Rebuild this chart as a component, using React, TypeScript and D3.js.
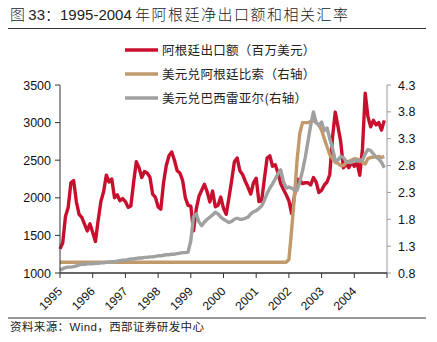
import React from "react";
import * as d3 from "d3";

const years = ["1995", "1996", "1997", "1998", "1999", "2000", "2001", "2002", "2003", "2004"];
const leftTicks = [1000, 1500, 2000, 2500, 3000, 3500];
const rightTicks = [0.8, 1.3, 1.8, 2.3, 2.8, 3.3, 3.8, 4.3];

// Monthly, Jan 1995 .. Dec 2004
const exportsArg = [
  1321, 1400, 1750, 1870, 2200, 2230, 1950, 1780, 1740, 1650, 1560, 1655,
  1540, 1420, 1700, 1950, 2080, 2300, 2210, 2250, 2000, 2040, 1960, 1990,
  1950, 1873, 1890, 2200, 2480, 2400, 2270, 2350, 2330, 2274, 2050, 2007,
  1880, 1850, 2200, 2430, 2560, 2610, 2500, 2360, 2330, 2230, 2000, 1900,
  1890, 1560, 1850, 2020, 2100, 2180, 2080, 1945, 2090, 1880, 1900, 2010,
  1860, 1780, 2000, 2230, 2480, 2530, 2360, 2310, 2220, 2140, 2050, 2200,
  2260, 1950, 1960, 2250, 2530, 2560, 2420, 2440, 2330, 2190, 2110, 2040,
  1960, 1790, 2020, 2250, 2230, 2190, 2200, 2200, 2170, 2270, 2210, 2070,
  2100, 2170, 2210, 2310, 2800, 3140, 2950, 2750, 2400, 2450, 2400, 2475,
  2420, 2470, 2300, 2650, 3390, 3080, 2944, 3030, 2970, 3000, 2900, 3030,
];

const usdArs = [
  1.0, 1.0, 1.0, 1.0, 1.0, 1.0, 1.0, 1.0, 1.0, 1.0, 1.0, 1.0,
  1.0, 1.0, 1.0, 1.0, 1.0, 1.0, 1.0, 1.0, 1.0, 1.0, 1.0, 1.0,
  1.0, 1.0, 1.0, 1.0, 1.0, 1.0, 1.0, 1.0, 1.0, 1.0, 1.0, 1.0,
  1.0, 1.0, 1.0, 1.0, 1.0, 1.0, 1.0, 1.0, 1.0, 1.0, 1.0, 1.0,
  1.0, 1.0, 1.0, 1.0, 1.0, 1.0, 1.0, 1.0, 1.0, 1.0, 1.0, 1.0,
  1.0, 1.0, 1.0, 1.0, 1.0, 1.0, 1.0, 1.0, 1.0, 1.0, 1.0, 1.0,
  1.0, 1.0, 1.0, 1.0, 1.0, 1.0, 1.0, 1.0, 1.0, 1.0, 1.0, 1.0,
  1.05, 1.6, 2.2, 2.9, 3.4, 3.6, 3.6, 3.6, 3.62, 3.64, 3.6, 3.55,
  3.46, 3.3, 3.15, 3.0, 2.93, 2.86, 2.84, 2.8, 2.8, 2.85, 2.88, 2.9,
  2.93, 2.92, 2.9, 2.86, 2.83, 2.93, 2.95, 2.96, 2.96, 2.97, 2.95, 2.97,
];

const usdBrl = [
  0.85, 0.88, 0.9, 0.91, 0.91, 0.92, 0.93, 0.95, 0.96, 0.96, 0.97, 0.97,
  0.97, 0.98, 0.98, 0.99, 0.99, 1.0, 1.0, 1.01, 1.01, 1.02, 1.03, 1.04,
  1.04, 1.05, 1.06, 1.06, 1.07, 1.08, 1.08, 1.09, 1.09, 1.1, 1.1, 1.11,
  1.12, 1.12, 1.13, 1.14, 1.14, 1.15, 1.15, 1.16, 1.17, 1.18, 1.18, 1.19,
  1.4, 1.85, 1.9, 1.75, 1.68, 1.75, 1.8, 1.84, 1.88, 1.93, 1.9, 1.84,
  1.8, 1.77, 1.74, 1.76, 1.8, 1.82, 1.8, 1.8, 1.82, 1.84, 1.9, 1.94,
  1.96, 2.0, 2.05, 2.15, 2.28, 2.38, 2.46, 2.55, 2.65, 2.72, 2.5, 2.38,
  2.4, 2.38, 2.35, 2.34, 2.5, 2.7, 2.95, 3.25, 3.55, 3.8, 3.6, 3.55,
  3.61, 3.45, 3.5, 3.3, 3.12, 2.9, 2.9, 2.97, 2.95, 2.88, 2.86, 2.86,
  2.9, 2.88, 2.9, 2.9, 3.02, 3.1, 3.08, 3.02, 2.96, 2.92, 2.86, 2.76,
];

const legendLabels = ["阿根廷出口额（百万美元）", "美元兑阿根廷比索（右轴）", "美元兑巴西雷亚尔(右轴）"];
const colors = ["#C8102E", "#C19A6B", "#A0A0A0"];

const W = 437;
const H = 342;
const L = 60, R = 387, T = 85, B = 273;
const NUM = "'Liberation Sans', Arial, sans-serif";
const CJK = "'Noto Sans CJK SC', sans-serif";

export default function App() {
  const x = d3.scaleLinear().domain([0, 120]).range([L, R]);
  const yL = d3.scaleLinear().domain([1000, 3500]).range([B, T]);
  const yR = d3.scaleLinear().domain([0.8, 4.3]).range([B, T]);

  const lineL = d3.line<number>().x((_, i) => x(i)).y((d) => yL(d)).curve(d3.curveLinear);
  const lineR = d3.line<number>().x((_, i) => x(i)).y((d) => yR(d)).curve(d3.curveLinear);

  const xTicks = d3.range(0, 121, 12);

  return (
    <svg width={W} height={H} style={{ position: "absolute", left: 0, top: 0, background: "#fff" }}>
      <text x={10} y={20} fontFamily={CJK} fontSize={15} fill="#222" fontWeight={300}>
        图 <tspan fontFamily={NUM} fontSize={15} fontWeight={400}>33</tspan>：<tspan fontFamily={NUM} fontSize={15} fontWeight={400}>1995-2004</tspan>{" "}
        <tspan letterSpacing={1.5}>年阿根廷净出口额和相关汇率</tspan>
      </text>
      <line x1={8} x2={426} y1={28.5} y2={28.5} stroke="#333" strokeWidth={1.2} />

      {/* series */}
      <path d={lineL(exportsArg) || ""} fill="none" stroke={colors[0]} strokeWidth={3.4} strokeLinejoin="round" />
      <path d={lineR(usdArs) || ""} fill="none" stroke={colors[1]} strokeWidth={3.4} strokeLinejoin="round" />
      <path d={lineR(usdBrl) || ""} fill="none" stroke={colors[2]} strokeWidth={3.4} strokeLinejoin="round" />

      {/* left axis */}
      <line x1={L} x2={L} y1={T} y2={B} stroke="#333" strokeWidth={1} />
      {leftTicks.map((t) => (
        <g key={"l" + t}>
          <line x1={L - 5} x2={L} y1={yL(t)} y2={yL(t)} stroke="#333" />
          <text x={L - 9} y={yL(t) + 4.5} textAnchor="end" fontFamily={NUM} fontSize={12.5} fill="#111">
            {t}
          </text>
        </g>
      ))}

      {/* right axis */}
      <line x1={R} x2={R} y1={T} y2={B} stroke="#999" strokeWidth={1} />
      {rightTicks.map((t) => (
        <g key={"r" + t}>
          <line x1={R} x2={R + 4} y1={yR(t)} y2={yR(t)} stroke="#999" />
          <text x={R + 11} y={yR(t) + 4.5} textAnchor="start" fontFamily={NUM} fontSize={12.5} fill="#111">
            {t.toFixed(1)}
          </text>
        </g>
      ))}

      {/* bottom axis */}
      <line x1={L} x2={R} y1={B} y2={B} stroke="#333" strokeWidth={1.5} />
      {xTicks.map((t) => (
        <line key={"x" + t} x1={x(t)} x2={x(t)} y1={B} y2={B + 5} stroke="#333" />
      ))}
      {years.map((yr, i) => (
        <text
          key={yr}
          transform={`translate(${x(i * 12) + 3},${B + 19}) rotate(-45)`}
          textAnchor="end"
          fontFamily={NUM}
          fontSize={12}
          fill="#111"
        >
          {yr}
        </text>
      ))}

      {/* legend */}
      {legendLabels.map((lab, i) => (
        <g key={lab}>
          <line x1={125} x2={158} y1={50 + i * 24} y2={50 + i * 24} stroke={colors[i]} strokeWidth={3.5} />
          <text x={162} y={54.5 + i * 24} fontFamily={CJK} fontSize={12.5} fill="#222" letterSpacing={0.3}>
            {lab}
          </text>
        </g>
      ))}

      <line x1={8} x2={426} y1={318} y2={318} stroke="#333" strokeWidth={1} />
      <text x={10} y={331} fontFamily={CJK} fontSize={11.5} fill="#222" letterSpacing={0.4}>
        资料来源：<tspan fontFamily={NUM}>Wind</tspan>，西部证券研发中心
      </text>
    </svg>
  );
}
